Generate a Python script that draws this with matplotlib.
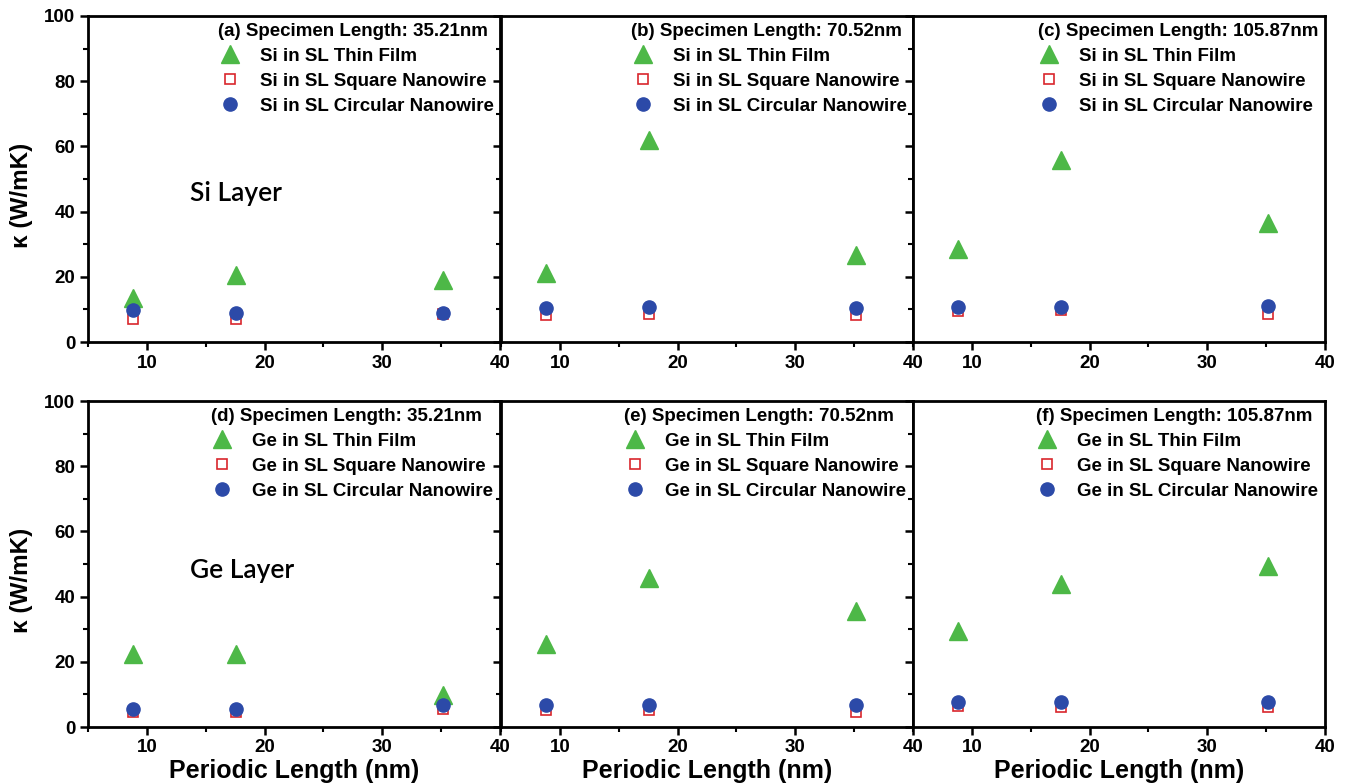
import matplotlib
matplotlib.use("Agg")
import matplotlib.pyplot as plt
from matplotlib.ticker import MultipleLocator

plt.rcParams['font.family'] = ['Liberation Sans', 'DejaVu Sans']
plt.rcParams['font.weight'] = 'bold'

# ------------------------------------------------------------
# data
# ------------------------------------------------------------
periodic_length = [8.8, 17.6, 35.2]
specimen_lengths = ["35.21nm", "70.52nm", "105.87nm"]
panel_tags = [["(a)", "(b)", "(c)"], ["(d)", "(e)", "(f)"]]
layers = ["Si", "Ge"]

# Si layer: [35.21, 70.52, 105.87]
si_thin_film = [[13.5, 20.4, 18.9], [21.2, 62.1, 26.6], [28.6, 55.7, 36.5]]
si_square_nw = [[7.0, 7.2, 8.5], [8.2, 8.7, 8.2], [9.5, 9.7, 8.7]]
si_circular_nw = [[9.7, 9.0, 9.0], [10.5, 10.7, 10.5], [10.7, 10.7, 11.0]]

# Ge layer
ge_thin_film = [[22.3, 22.3, 9.7], [25.6, 45.8, 35.6], [29.4, 43.8, 49.3]]
ge_square_nw = [[4.6, 4.6, 5.6], [5.1, 5.3, 4.6], [6.3, 6.1, 6.1]]
ge_circular_nw = [[5.6, 5.6, 6.6], [6.6, 6.6, 6.6], [7.7, 7.7, 7.7]]

thin_film = [si_thin_film, ge_thin_film]
square_nw = [si_square_nw, ge_square_nw]
circular_nw = [si_circular_nw, ge_circular_nw]

GREEN = "#4db847"
RED = "#d9262c"
BLUE = "#2c4aa8"

W, H = 1350, 784
fig = plt.figure(figsize=(W / 100, H / 100), dpi=100)

col_left = [88, 501, 913]
col_width = 412
row_top = [16, 401]
row_height = 326

for r in range(2):
    for c in range(3):
        ax = fig.add_axes([col_left[c] / W, 1 - (row_top[r] + row_height) / H,
                           col_width / W, row_height / H])
        layer = layers[r]
        ax.plot(periodic_length, thin_film[r][c], ls='none', marker='^',
                ms=13, color=GREEN, label=f"{layer} in SL Thin Film")
        ax.plot(periodic_length, square_nw[r][c], ls='none', marker='s',
                ms=7.5, mfc='white', mec=RED, mew=1.2,
                label=f"{layer} in SL Square Nanowire")
        ax.plot(periodic_length, circular_nw[r][c], ls='none', marker='o',
                ms=9.5, color=BLUE, label=f"{layer} in SL Circular Nanowire")

        ax.set_xlim(5, 40)
        ax.set_ylim(0, 100)
        ax.xaxis.set_major_locator(MultipleLocator(10))
        ax.xaxis.set_minor_locator(MultipleLocator(5))
        ax.yaxis.set_major_locator(MultipleLocator(20))
        ax.yaxis.set_minor_locator(MultipleLocator(10))
        ax.tick_params(which='major', direction='out', length=6, width=1.8,
                       labelsize=13.5, pad=3)
        ax.tick_params(which='minor', direction='out', length=3.5, width=1.5)
        for sp in ax.spines.values():
            sp.set_linewidth(2)
        if c > 0:
            ax.tick_params(axis='y', labelleft=False)
        else:
            ax.set_ylabel("κ (W/mK)", fontsize=17.5, fontweight='bold')
            ax.yaxis.set_label_coords(-0.133, 0.45)
        if r == 1:
            ax.set_xlabel("Periodic Length (nm)", fontsize=18, fontweight='bold',
                          labelpad=2)

        leg = ax.legend(title=f"{panel_tags[r][c]} Specimen Length: {specimen_lengths[c]}",
                        loc='upper right', frameon=False, alignment='left',
                        prop={'size': 13.5, 'weight': 'bold'},
                        title_fontproperties={'size': 13.5, 'weight': 'bold'},
                        handlelength=1.2, handletextpad=1.0, labelspacing=0.42,
                        borderaxespad=0.15, borderpad=0.2)

        if c == 0:
            ax.text(13.7, 45.5 if r == 0 else 48, f"{layer} Layer",
                    family=['Lato', 'DejaVu Sans'], fontsize=19,
                    fontweight='semibold', va='center', ha='left')

fig.savefig("out.png", dpi=100)
